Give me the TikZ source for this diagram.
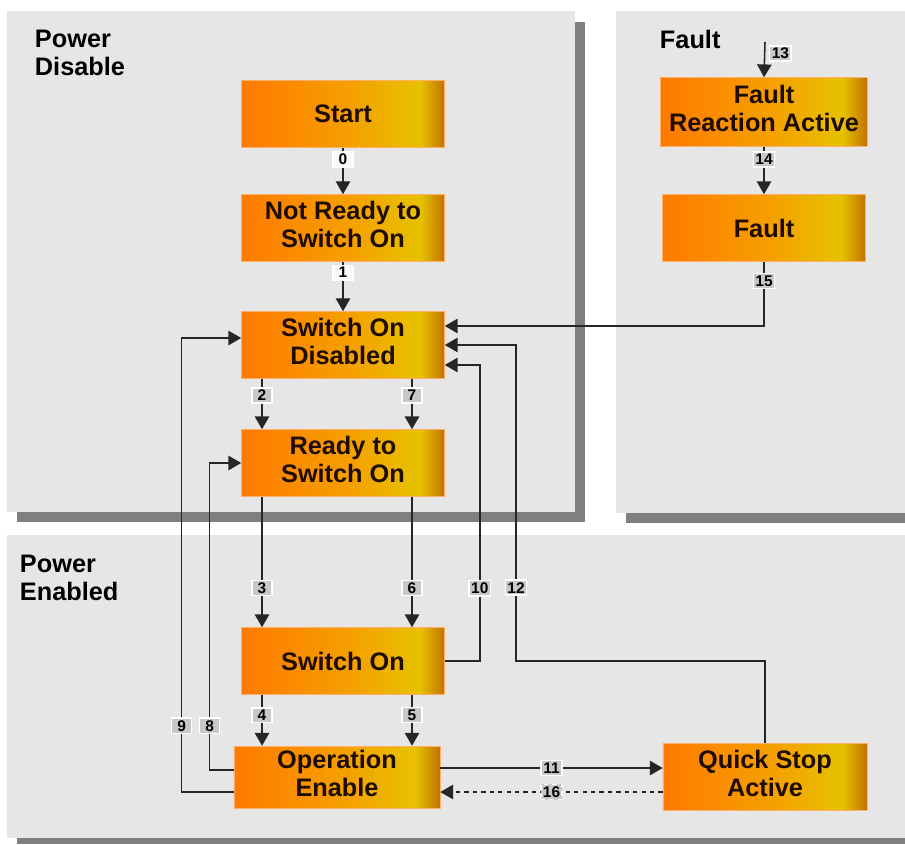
\documentclass[tikz,border=0pt]{standalone}
\usepackage{fontspec}
\setmainfont{Liberation Sans}
\usetikzlibrary{arrows.meta, calc}
\definecolor{panelgray}{HTML}{E6E6E6}
\definecolor{shadowgray}{HTML}{7F7F7F}
\definecolor{labelgray}{HTML}{C8C8C8}
\definecolor{stateorange}{HTML}{FF7A00}
\definecolor{stateamber}{HTML}{F5A000}
\definecolor{stateyellow}{HTML}{E6C200}
\definecolor{statebrown}{HTML}{C47800}
\definecolor{statetext}{HTML}{1E0C00}
\pgfdeclarehorizontalshading{statefill}{100bp}{color(0bp)=(stateorange); color(25bp)=(stateorange);
  color(52bp)=(stateamber); color(69bp)=(stateyellow); color(74.5bp)=(statebrown); color(100bp)=(statebrown)}

\begin{document}
\begin{tikzpicture}[
    x=0.025cm, y=-0.025cm,
    every node/.style={font=\bfseries},
    >={Triangle[width=0.36cm, length=0.32cm]},
    state/.style={shading=statefill, draw=stateorange!60, line width=0.4pt, minimum width=5.075cm,
      minimum height=1.675cm, text=statetext, font=\bfseries\fontsize{18}{20}\selectfont, inner sep=0pt},
    lbl/.style={fill=labelgray, draw=white, text=black, font=\bfseries\fontsize{11}{12}\selectfont,
      inner sep=1.5pt, minimum width=0.5cm},
    lblw/.style={lbl, fill=white!80!panelgray},
    flow/.style={->, line width=1.1pt, draw=black!85},
    title/.style={anchor=north west, align=left, font=\bfseries\fontsize{18}{20}\selectfont},
]

\useasboundingbox (0,0) rectangle (905,844);

% Panels
\fill[shadowgray] (17,22) rectangle (585,522);
\fill[panelgray] (7,11) rectangle (575,512);
\fill[shadowgray] (626,22) rectangle (905,523);
\fill[panelgray] (616,11) rectangle (905,513);
\fill[shadowgray] (17,545) rectangle (905,844);
\fill[panelgray] (7,535) rectangle (905,838);

\node[title] (ptitle) at (30,25) {Power\\Disable};
\node[title] (ftitle) at (655,25) {Fault};
\node[title] (etitle) at (15,550) {Power\\Enabled};

% --- Power Disable states ---
\node[state] (start) at (343,114) {Start};
\node[state] (notready) at (343,228) {\begin{tabular}{c}Not Ready to\\Switch On\end{tabular}};
\node[state] (disabled) at (343,345) {\begin{tabular}{c}Switch On\\Disabled\end{tabular}};
\node[state] (ready) at (343,463) {\begin{tabular}{c}Ready to\\Switch On\end{tabular}};

% --- Fault states ---
\node[state, minimum height=1.725cm] (reaction) at (764,112) {\begin{tabular}{c}Fault\\Reaction Active\end{tabular}};
\node[state] (fault) at (764,228) {Fault};

% --- Power Enabled states ---
\node[state] (switchon) at (343,661) {Switch On};
\node[state, minimum width=5.15cm, minimum height=1.55cm] (openable) at (337,777) {\begin{tabular}{c}Operation\\Enable\end{tabular}};
\node[state, minimum width=5.1cm] (quickstop) at (765,777) {\begin{tabular}{c}Quick Stop\\Active\end{tabular}};

% lanes
\coordinate (laneL) at (262,0);
\coordinate (laneR) at (412,0);
\coordinate (in13) at (765,42);

% --- Arrows ---
\draw[flow, line width=0.8pt] (start) -- node[lblw, pos=0.25] {0} (notready);
\draw[flow, line width=0.8pt] (notready.south -| disabled.south) -- node[lblw, pos=0.22] {1} (disabled.north);
\draw[flow] (disabled.south -| laneL) -- node[lbl, pos=0.33] {2} (ready.north -| laneL);
\draw[flow] (disabled.south -| laneR) -- node[lbl, pos=0.33] {7} (ready.north -| laneR);
\draw[flow] (ready.south -| laneL) -- node[lbl, pos=0.7] {3} (switchon.north -| laneL);
\draw[flow] (ready.south -| laneR) -- node[lbl, pos=0.7] {6} (switchon.north -| laneR);
\draw[flow] (switchon.south -| laneL) -- node[lbl, pos=0.4] {4} (openable.north -| laneL);
\draw[flow] (switchon.south -| laneR) -- node[lbl, pos=0.4] {5} (openable.north -| laneR);

\draw[flow] (switchon.east) -- ++(35,0) |- node[lbl, pos=0.123] {10} ($(disabled.east)+(0,20)$);
\draw[flow] (quickstop.north) |- (516,661) |- node[lbl, pos=0.116] {12} (disabled.east);
\draw[flow] (fault.south) |- node[lbl, pos=0.15] {15} ($(disabled.east)+(0,-19)$);

\draw[flow] (in13) -- node[lbl, pos=0.33, anchor=west, xshift=3pt] {13} (reaction.north);
\draw[flow] (reaction) -- node[lbl, pos=0.27] {14} (fault);

\draw[flow] ($(openable.west)+(0,15)$) -- ++(-52,0) |- node[lbl, pos=0.073] {9} ($(disabled.west)+(0,-7)$);
\draw[flow] ($(openable.west)+(0,-7)$) -- ++(-24,0) |- node[lbl, pos=0.072] {8} (ready.west);

\draw[flow] ($(openable.east)+(0,-9)$) -- node[lbl] {11} ($(quickstop.west)+(0,-9)$);
\draw[flow, dashed] ($(quickstop.west)+(0,15)$) -- node[lbl] {16} ($(openable.east)+(0,15)$);

\end{tikzpicture}
\end{document}
